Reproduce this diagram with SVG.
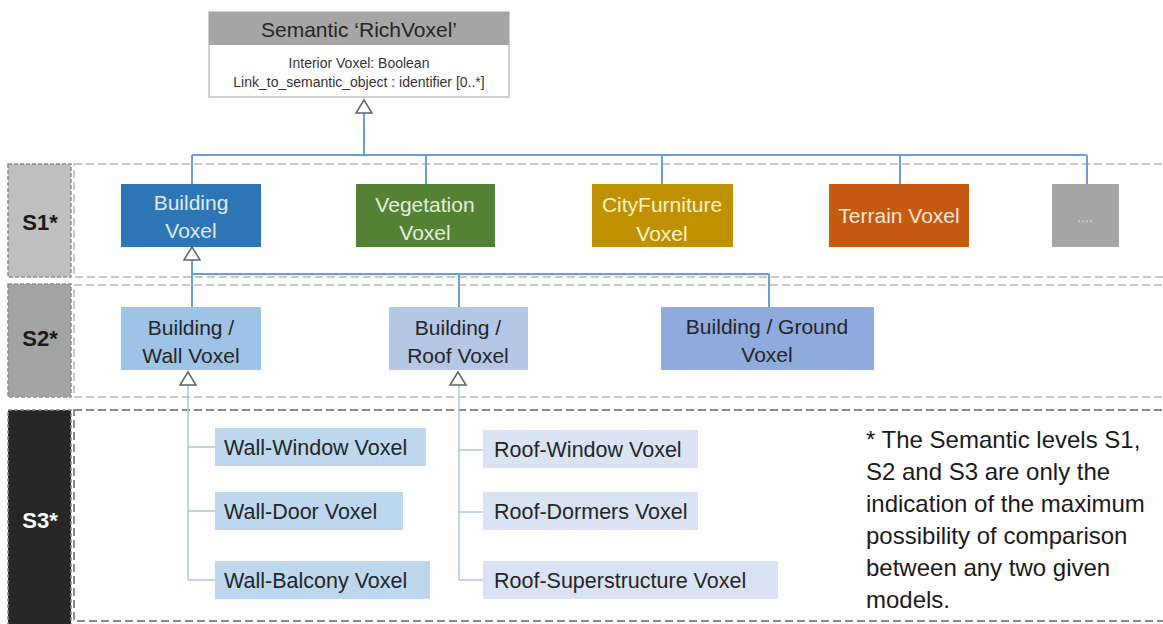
<svg xmlns="http://www.w3.org/2000/svg" width="1163" height="624" viewBox="0 0 1163 624">
<style>
text{font-family:"Liberation Sans",Arial,sans-serif}
.row{fill:none;stroke:#c8c8c8;stroke-width:2;stroke-dasharray:8 4}
.lab{stroke:#8c8c8c;stroke-width:1.5;stroke-dasharray:4 2}
.conn{fill:none;stroke:#6a9fd4;stroke-width:2}
.thin{fill:none;stroke:#a9c8e6;stroke-width:1.5}
.tri{fill:#fff;stroke:#5a6470;stroke-width:1.5}
.t1{font-size:21px;text-anchor:middle}
.t3{font-size:21.5px;fill:#262626}
.lvl{font-size:22px;font-weight:bold;text-anchor:middle}
</style>
<rect width="1163" height="624" fill="#fff"/>
<g id="levels">
<rect class="row" x="74" y="164" width="1100" height="113"/>
<rect class="row" x="74" y="285" width="1100" height="112"/>
<rect x="74" y="410" width="1100" height="211" fill="none" stroke="#8a8a8a" stroke-width="2" stroke-dasharray="8 4"/>
<rect class="lab" x="8" y="164" width="63" height="113" fill="#bfbfbf"/>
<text class="lvl" x="40" y="230" fill="#1a1a1a">S1*</text>
<rect class="lab" x="8" y="284" width="63" height="113" fill="#a3a3a3"/>
<text class="lvl" x="40" y="346" fill="#1a1a1a">S2*</text>
<rect class="lab" x="8" y="410" width="63" height="216" fill="#262626"/>
<text class="lvl" x="40" y="528" fill="#fff">S3*</text>
</g>
<g id="connectors">
<path class="conn" d="M364 112V155M192 155H1087M192 155V184M426 155V184M662 155V184M900 155V184M1087 155V184"/>
<path class="conn" d="M192 260V274M192 274H769M192 274V307M459 274V307M769 274V307"/>
<path class="thin" d="M188 385V580M188 447H215M188 511H215M188 580H215"/>
<path class="thin" d="M459 385V580M459 450H483M459 512H483M459 580H483"/>
<polygon class="tri" points="364,100 356,113 372,113"/>
<polygon class="tri" points="192,247 184,260 200,260"/>
<polygon class="tri" points="188,372 180,385 196,385"/>
<polygon class="tri" points="458,372 450,385 466,385"/>
</g>
<g id="richvoxel">
<rect x="209" y="12" width="300" height="85" fill="#fff" stroke="#bfbfbf" stroke-width="1.5"/>
<rect x="209" y="12" width="300" height="33" fill="#a5a5a5"/>
<text x="359" y="37" font-size="21" text-anchor="middle" fill="#262626">Semantic ‘RichVoxel’</text>
<text x="359" y="68" font-size="14" text-anchor="middle" fill="#333">Interior Voxel: Boolean</text>
<text x="359" y="87" font-size="14" text-anchor="middle" fill="#333">Link_to_semantic_object : identifier [0..*]</text>
</g>
<g id="building">
<rect x="121" y="184" width="140" height="63" fill="#2e75b6"/>
<text class="t1" x="191" y="210" fill="#ddebf7">Building</text>
<text class="t1" x="191" y="238" fill="#ddebf7">Voxel</text>
</g>
<g id="vegetation">
<rect x="356" y="184" width="139" height="63" fill="#548235"/>
<text class="t1" x="425" y="212" fill="#e2efda">Vegetation</text>
<text class="t1" x="425" y="240" fill="#e2efda">Voxel</text>
</g>
<g id="cityfurniture">
<rect x="592" y="184" width="141" height="63" fill="#bf9000"/>
<text class="t1" x="662" y="212" fill="#fff2cc">CityFurniture</text>
<text class="t1" x="662" y="241" fill="#fff2cc">Voxel</text>
</g>
<g id="terrain">
<rect x="829" y="184" width="140" height="63" fill="#c55a11"/>
<text class="t1" x="899" y="223" fill="#fbe5d6">Terrain Voxel</text>
</g>
<g id="more">
<rect x="1052" y="184" width="67" height="63" fill="#a6a6a6"/>
<text x="1085" y="222" font-size="14" text-anchor="middle" fill="#d9d9d9">....</text>
</g>
<g id="wall">
<rect x="121" y="307" width="140" height="63" fill="#9dc3e6"/>
<text class="t1" x="191" y="335" fill="#262626">Building /</text>
<text class="t1" x="191" y="363" fill="#262626">Wall Voxel</text>
</g>
<g id="roof">
<rect x="389" y="307" width="139" height="63" fill="#b4c7e7"/>
<text class="t1" x="458" y="335" fill="#262626">Building /</text>
<text class="t1" x="458" y="363" fill="#262626">Roof Voxel</text>
</g>
<g id="ground">
<rect x="661" y="307" width="213" height="63" fill="#8faadc"/>
<text class="t1" x="767" y="334" fill="#262626">Building / Ground</text>
<text class="t1" x="767" y="362" fill="#262626">Voxel</text>
</g>
<g id="wall-window">
<rect x="215" y="428" width="211" height="38" fill="#bdd7ee"/>
<text class="t3" x="224" y="455">Wall-Window Voxel</text>
</g>
<g id="wall-door">
<rect x="215" y="492" width="188" height="38" fill="#bdd7ee"/>
<text class="t3" x="224" y="519">Wall-Door Voxel</text>
</g>
<g id="wall-balcony">
<rect x="215" y="561" width="215" height="38" fill="#bdd7ee"/>
<text class="t3" x="224" y="588">Wall-Balcony Voxel</text>
</g>
<g id="roof-window">
<rect x="483" y="430" width="215" height="38" fill="#dae3f3"/>
<text class="t3" x="494" y="457">Roof-Window Voxel</text>
</g>
<g id="roof-dormers">
<rect x="483" y="492" width="215" height="38" fill="#dae3f3"/>
<text class="t3" x="494" y="519">Roof-Dormers Voxel</text>
</g>
<g id="roof-superstructure">
<rect x="483" y="561" width="295" height="38" fill="#dae3f3"/>
<text class="t3" x="494" y="588">Roof-Superstructure Voxel</text>
</g>
<g id="note" font-size="24" fill="#1a1a1a">
<text x="866" y="448">* The Semantic levels S1,</text>
<text x="866" y="480">S2 and S3 are only the</text>
<text x="866" y="512">indication of the maximum</text>
<text x="866" y="544">possibility of comparison</text>
<text x="866" y="576">between any two given</text>
<text x="866" y="608">models.</text>
</g>
</svg>
